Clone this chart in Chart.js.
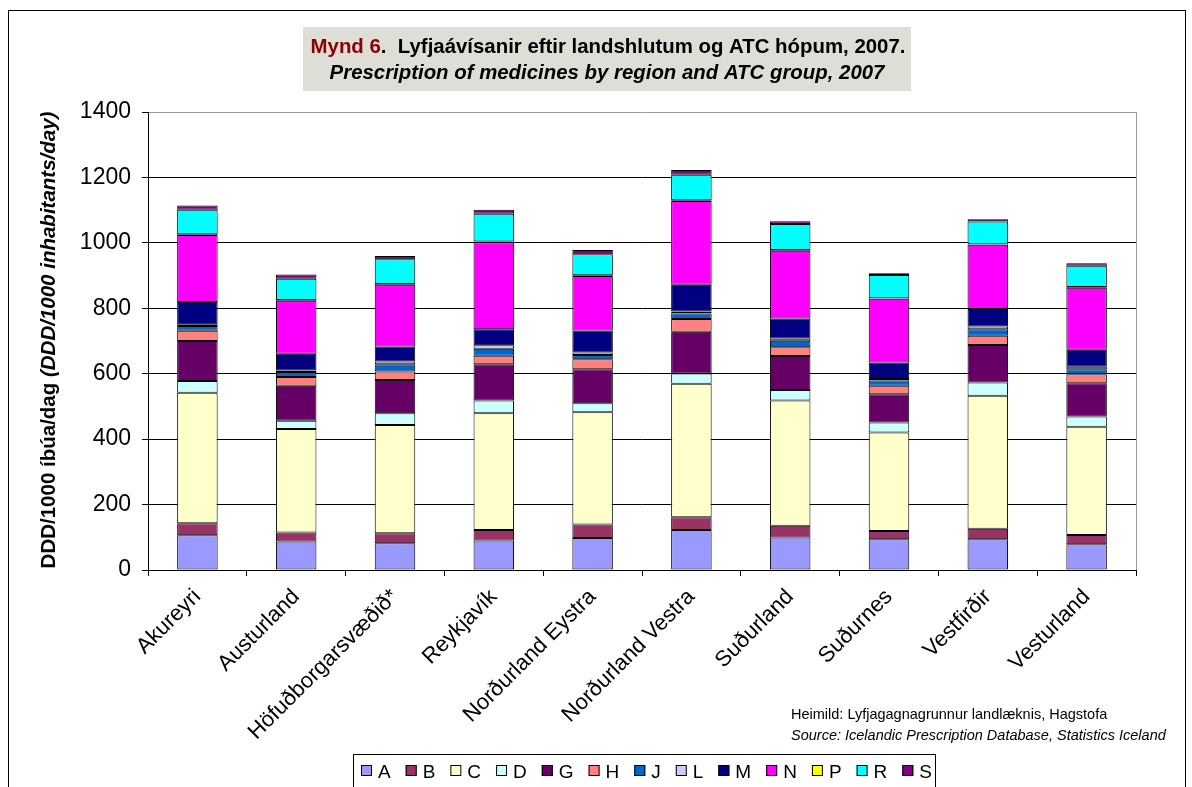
<!DOCTYPE html>
<html>
<head>
<meta charset="utf-8">
<script src="https://cdn.jsdelivr.net/npm/chart.js@4"></script>
<style>
  html, body { margin: 0; padding: 0; background: #fff; }
  #wrap { width: 1192px; height: 787px; }
</style>
</head>
<body>
<div id="wrap"><canvas id="atcChart" width="1192" height="787"></canvas></div>
<script>
// regions (x categories)
const regions = ['Akureyri', 'Austurland', 'Höfuðborgarsvæðið*', 'Reykjavík', 'Norðurland Eystra',
    'Norðurland Vestra', 'Suðurland', 'Suðurnes', 'Vestfirðir', 'Vesturland'];

// DDD/1000 inhabitants/day per ATC group, one value per region
const atcA = [106, 87, 82, 90, 98, 122, 99, 94, 94, 79];
const atcB = [37, 28, 30, 32, 41, 39, 36, 25, 32, 28];
const atcC = [399, 316, 331, 357, 343, 408, 383, 301, 407, 331];
const atcD = [36, 25, 36, 39, 28, 32, 32, 31, 40, 31];
const atcG = [122, 107, 102, 111, 104, 127, 104, 86, 115, 102];
const atcH = [31, 27, 26, 26, 30, 39, 27, 26, 28, 27];
const atcJ = [15, 15, 22, 21, 13, 17, 20, 16, 20, 16];
const atcL = [5, 5, 8, 11, 8, 6, 7, 5, 8, 7];
const atcM = [68, 51, 46, 49, 67, 82, 61, 50, 54, 52];
const atcN = [205, 162, 189, 266, 167, 256, 207, 195, 196, 190];
const atcP = [2, 2, 2, 2, 2, 2, 2, 2, 2, 2];
const atcR = [75, 65, 76, 85, 64, 78, 80, 71, 69, 65];
const atcS = [13, 13, 10, 12, 13, 15, 8, 5, 7, 8];

const yTicks = [0, 200, 400, 600, 800, 1000, 1200, 1400];

const groups = [
    ['A', atcA, '#9999FF'],
    ['B', atcB, '#993366'],
    ['C', atcC, '#FFFFCC'],
    ['D', atcD, '#CCFFFF'],
    ['G', atcG, '#660066'],
    ['H', atcH, '#FF8080'],
    ['J', atcJ, '#0066CC'],
    ['L', atcL, '#CCCCFF'],
    ['M', atcM, '#000080'],
    ['N', atcN, '#FF00FF'],
    ['P', atcP, '#FFFF00'],
    ['R', atcR, '#00FFFF'],
    ['S', atcS, '#800080'],
];

const FONT = '"Liberation Sans", Arial, Helvetica, sans-serif';

// frame, title box, axis title, legend and source note
const decor = {
    id: 'decor',
    beforeDraw(chart) {
        const ctx = chart.ctx;
        ctx.save();
        ctx.fillStyle = '#fff';
        ctx.fillRect(0, 0, chart.width, chart.height);
        ctx.strokeStyle = '#000';
        ctx.lineWidth = 1;
        ctx.strokeRect(8.5, 10.5, 1177, 800);
        ctx.restore();
    },
    afterDraw(chart) {
        const ctx = chart.ctx;
        const area = chart.chartArea;
        ctx.save();

        // plot border right
        ctx.strokeStyle = '#999';
        ctx.beginPath();
        ctx.moveTo(Math.round(area.right) + 0.5, area.top);
        ctx.lineTo(Math.round(area.right) + 0.5, area.bottom);
        ctx.stroke();

        // title box
        ctx.fillStyle = '#DEDED6';
        ctx.fillRect(303, 27, 608, 64);
        ctx.textBaseline = 'alphabetic';
        ctx.font = 'bold 20.4px ' + FONT;
        const t1a = 'Mynd 6', t1b = '.  Lyfjaávísanir eftir landshlutum og ATC hópum, 2007.';
        const w1 = ctx.measureText(t1a).width + ctx.measureText(t1b).width;
        let x = 608 - w1 / 2;
        ctx.textAlign = 'left';
        ctx.fillStyle = '#8B0000';
        ctx.fillText(t1a, x, 53);
        x += ctx.measureText(t1a).width;
        ctx.fillStyle = '#000';
        ctx.fillText(t1b, x, 53);
        ctx.font = 'italic bold 20.4px ' + FONT;
        ctx.textAlign = 'center';
        ctx.fillText('Prescription of medicines by region and ATC group, 2007', 607, 79);

        // y axis title
        ctx.save();
        ctx.translate(55, 340);
        ctx.rotate(-Math.PI / 2);
        const ya = 'DDD/1000 íbúa/dag ', yb = '(DDD/1000 inhabitants/day)';
        ctx.font = 'bold 20.5px ' + FONT;
        const wa = ctx.measureText(ya).width;
        ctx.font = 'italic bold 20.5px ' + FONT;
        const wb = ctx.measureText(yb).width;
        ctx.textAlign = 'left';
        ctx.font = 'bold 20.5px ' + FONT;
        ctx.fillText(ya, -(wa + wb) / 2, 0);
        ctx.font = 'italic bold 20.5px ' + FONT;
        ctx.fillText(yb, -(wa + wb) / 2 + wa, 0);
        ctx.restore();

        // source note
        ctx.textAlign = 'left';
        ctx.font = '14.5px ' + FONT;
        ctx.fillText('Heimild: Lyfjagagnagrunnur landlæknis, Hagstofa', 791, 719);
        ctx.font = 'italic 14.5px ' + FONT;
        ctx.fillText('Source: Icelandic Prescription Database, Statistics Iceland', 791, 740);

        // legend
        ctx.fillStyle = '#fff';
        ctx.fillRect(353, 754, 582, 40);
        ctx.strokeStyle = '#000';
        ctx.strokeRect(353.5, 754.5, 582, 40);
        ctx.font = '19px ' + FONT;
        let lx = 361;
        chart.data.datasets.forEach(ds => {
            ctx.fillStyle = ds.backgroundColor;
            ctx.fillRect(lx, 765, 11, 11);
            ctx.strokeStyle = '#000';
            ctx.strokeRect(lx + 0.5, 765.5, 10, 10);
            ctx.fillStyle = '#000';
            ctx.fillText(ds.label, lx + 17, 778);
            lx += 17 + ctx.measureText(ds.label).width + 15;
        });
        ctx.restore();
    }
};

const ctx = document.getElementById('atcChart').getContext('2d');
const atcChart = new Chart(ctx, {
    type: 'bar',
    data: {
        labels: regions,
        datasets: groups.map(g => ({
            label: g[0],
            data: g[1],
            backgroundColor: g[2],
            borderColor: '#000',
            borderWidth: 1,
            borderSkipped: false,
            categoryPercentage: 1,
            barPercentage: 0.41
        }))
    },
    options: {
        responsive: false,
        animation: false,
        devicePixelRatio: 1,
        layout: { padding: { left: 0, top: 112, right: 56, bottom: 0 } },
        plugins: {
            legend: { display: false },
            tooltip: { enabled: false },
            title: { display: false }
        },
        scales: {
            x: {
                stacked: true,
                afterFit: s => { s.height = 217; },
                grid: { drawOnChartArea: false, offset: true, tickLength: 6, color: '#000' },
                border: { color: '#000' },
                ticks: {
                    autoSkip: false, minRotation: 45, maxRotation: 45, padding: 8,
                    color: '#000', font: { family: FONT, size: 22 }
                }
            },
            y: {
                stacked: true,
                min: 0,
                max: 1400,
                afterFit: s => { s.width = 148; },
                afterBuildTicks: s => { s.ticks = yTicks.map(v => ({ value: v })); },
                grid: {
                    color: c => (c.tick && c.tick.value === 1400 ? '#999' : '#000'),
                    tickColor: '#000',
                    tickLength: 6
                },
                border: { color: '#000' },
                ticks: {
                    padding: 11, color: '#000', font: { family: FONT, size: 23 },
                    callback: v => String(v)
                }
            }
        }
    },
    plugins: [decor]
});
</script>
</body>
</html>
